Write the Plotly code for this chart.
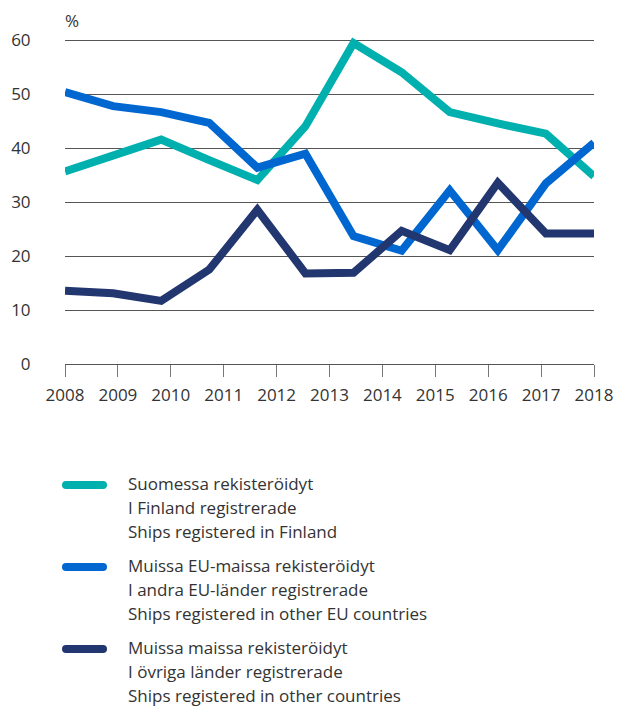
import plotly.graph_objects as go

# ---- data ----
years = ["2008", "2009", "2010", "2011", "2012", "2013", "2014", "2015", "2016", "2017", "2018"]
point_index = list(range(12))
finland = [35.7, 38.7, 41.6, 37.8, 34.1, 44.1, 59.5, 54.1, 46.7, 44.6, 42.7, 34.8]
other_eu = [50.4, 47.8, 46.7, 44.7, 36.4, 39.0, 23.7, 21.0, 32.2, 21.1, 33.5, 41.0]
other_countries = [13.6, 13.1, 11.7, 17.5, 28.6, 16.8, 16.9, 24.7, 21.1, 33.6, 24.2, 24.2]

series_names = [
    ["Suomessa rekisteröidyt", "I Finland registrerade", "Ships registered in Finland"],
    ["Muissa EU-maissa rekisteröidyt", "I andra EU-länder registrerade", "Ships registered in other EU countries"],
    ["Muissa maissa rekisteröidyt", "I övriga länder registrerade", "Ships registered in other countries"],
]
colors = ["#00B0AF", "#0066D0", "#22366F"]
y_ticks = [0, 10, 20, 30, 40, 50, 60]

# ---- geometry (page body has an 8px margin) ----
OFF = 8
WIN_W, WIN_H = 625, 706
W, H = WIN_W - OFF, WIN_H - OFF
PLOT_L, PLOT_R, PLOT_T, PLOT_B = 65, 594, 35, 364   # in window pixels
L, R, T, B = PLOT_L - OFF, WIN_W - PLOT_R, PLOT_T - OFF, WIN_H - PLOT_B
PW, PH = PLOT_R - PLOT_L, PLOT_B - PLOT_T
FONT = "Open Sans"
TXT = "#333333"


def px(xp):
    return (xp - PLOT_L) / PW


def py(yp):
    return (PLOT_B - yp) / PH


fig = go.Figure()
for vals, col, nm in zip([finland, other_eu, other_countries], colors, series_names):
    fig.add_trace(go.Scatter(
        x=point_index, y=vals, mode="lines", name=" / ".join(nm),
        line=dict(color=col, width=8), showlegend=False,
    ))

n_pts = len(point_index) - 1
tick_pos = [i * n_pts / (len(years) - 1) for i in range(len(years))]

fig.update_layout(
    width=W, height=H,
    margin=dict(l=L, r=R, t=T, b=B, pad=0),
    paper_bgcolor="white", plot_bgcolor="white",
    font=dict(family=FONT, size=16, color=TXT),
    xaxis=dict(
        range=[0, n_pts], tickvals=tick_pos, ticktext=years,
        showgrid=False, zeroline=False, automargin=False,
        showline=True, linecolor="#555555", linewidth=1,
        ticks="outside", ticklen=12, tickcolor="#777777", tickwidth=1,
        tickfont=dict(size=17, color=TXT), ticklabelstandoff=4,
        fixedrange=True,
    ),
    yaxis=dict(
        range=[0, 61], tickvals=y_ticks, ticktext=[str(v) for v in y_ticks],
        showgrid=True, gridcolor="#555555", gridwidth=1,
        zeroline=False, showline=False, automargin=False,
        ticks="outside", ticklen=30, tickcolor="rgba(0,0,0,0)",
        tickfont=dict(size=17, color=TXT),
        fixedrange=True,
    ),
)

# "%" unit label
fig.add_annotation(text="%", xref="paper", yref="paper", x=px(63), y=py(20),
                   xanchor="left", yanchor="middle", showarrow=False,
                   font=dict(size=17, color=TXT))

# manual legend
leg_top = [485, 567, 649]
for col, nm, y0 in zip(colors, series_names, leg_top):
    fig.add_shape(type="line", xref="paper", yref="paper",
                  x0=px(66), x1=px(103), y0=py(y0), y1=py(y0),
                  line=dict(color=col, width=8))
    for xc in (px(66), px(103)):
        fig.add_shape(type="circle", xref="paper", yref="paper",
                      xsizemode="pixel", ysizemode="pixel",
                      xanchor=xc, yanchor=py(y0), x0=-4, x1=4, y0=-4, y1=4,
                      fillcolor=col, line=dict(width=0))
    for k, line_txt in enumerate(nm):
        fig.add_annotation(text=line_txt, xref="paper", yref="paper",
                           x=px(126), y=py(y0 - 2 + 24 * k),
                           xanchor="left", yanchor="middle", showarrow=False,
                           font=dict(size=17, color=TXT))

fig.write_html("out.html")
